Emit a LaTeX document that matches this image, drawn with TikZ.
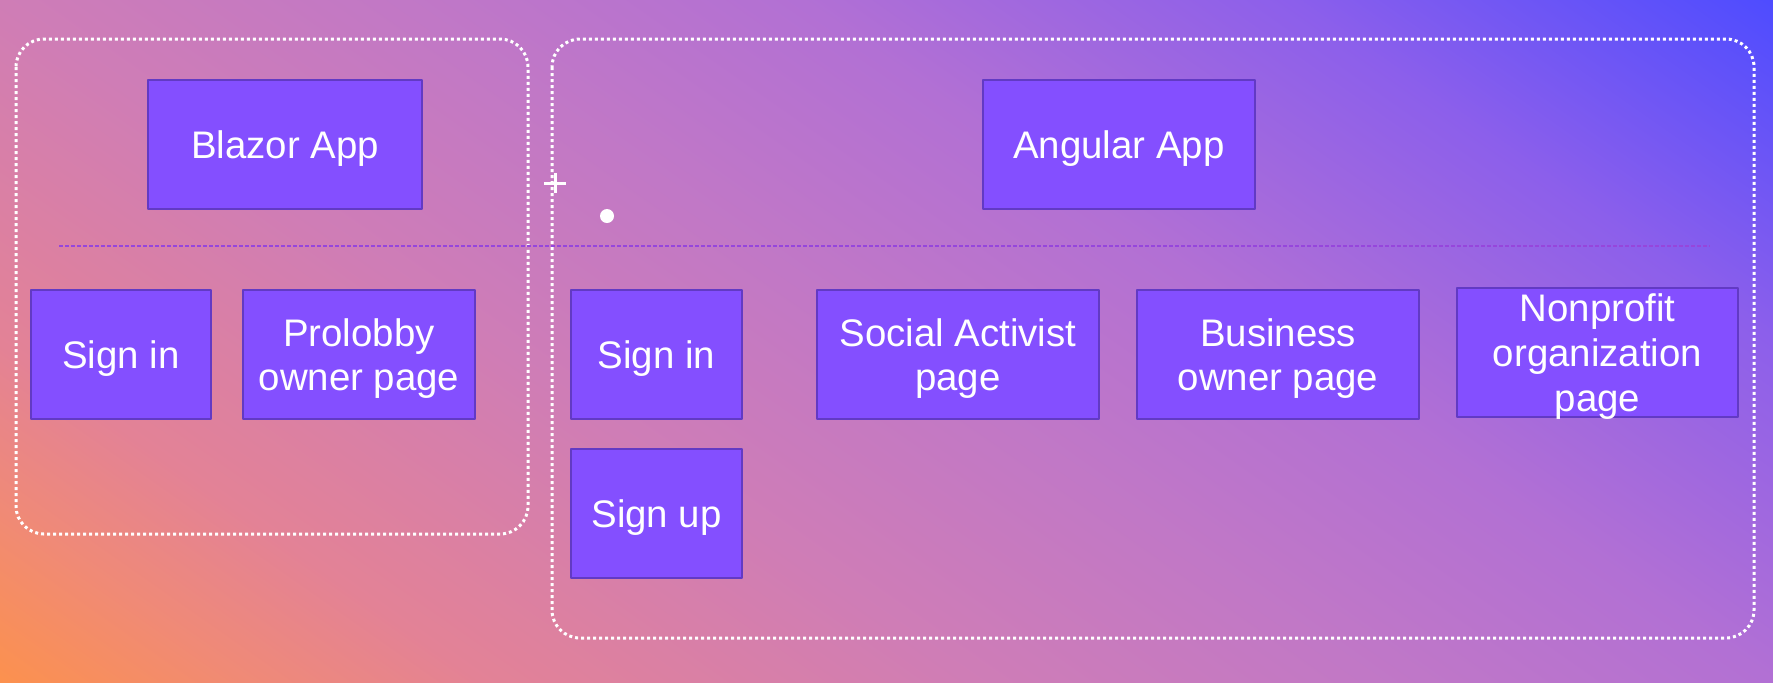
\documentclass[tikz,border=0pt]{standalone}
\usepackage{fontspec}
\setmainfont{Liberation Sans}
\definecolor{bga}{RGB}{252,145,78}
\definecolor{bgb}{RGB}{240,138,118}
\definecolor{bgc}{RGB}{227,130,150}
\definecolor{bgd}{RGB}{207,125,182}
\definecolor{bge}{RGB}{193,120,198}
\definecolor{bgf}{RGB}{178,112,212}
\definecolor{bgg}{RGB}{140,95,235}
\definecolor{bgh}{RGB}{78,76,255}
\definecolor{boxfill}{RGB}{132,79,255}
\definecolor{boxline}{RGB}{98,58,196}
\definecolor{guide}{RGB}{150,70,220}
\pgfdeclareverticalshading{backdrop}{100bp}{color(0bp)=(bga); color(37.5bp)=(bga); color(39.75bp)=(bgb);
	color(41.9bp)=(bgc); color(46.35bp)=(bgd); color(50bp)=(bge); color(53.65bp)=(bgf); color(58.1bp)=(bgg);
	color(62.5bp)=(bgh); color(100bp)=(bgh)}
\begin{document}
\begin{tikzpicture}[x=.5pt, y=-.5pt, line join=round, line cap=round,
		font=\fontsize{19.2}{22.4}\selectfont,
		page/.style={draw=boxline, line width=1pt, fill=boxfill, text=white, align=center, inner sep=0pt, text depth=0pt, minimum height=64.5pt},
		frame/.style={draw=white, line width=1.5pt, line cap=butt, dash pattern=on 1.5pt off 1.5pt, rounded corners=14pt}]
		\def\W{1773}\def\H{682}\def\row{354.5}
		\useasboundingbox (0,0) rectangle (\W,\H);
		\begin{scope}
			\clip (0,0) rectangle (\W,\H);
			\shade[shading=backdrop, shading angle=-35] (-689.5,-1235) rectangle (2462.5,1917);
		\end{scope}
		% dotted app frames
		\draw[frame] (16,39) rectangle (528,534);
		\draw[frame] (552,39) rectangle (1754,638);
		\coordinate (gl) at (59,246); \coordinate (gr) at (1710,246);
		\draw[guide, line width=.75pt, line cap=butt, dash pattern=on 2pt off 1pt] (gl)--(gr);
		\draw[white, line width=1.5pt, line cap=butt] (544,183)--(566,183) (555,173)--(555,193);
		\fill[white] (607,216) circle (3.5pt);
		% apps
		\node[page, minimum width=137pt] (blazor) at (285,144.5) {Blazor App};
		\node[page, minimum width=136pt] (angular) at (1119,144.5) {Angular App};
		% pages
		\foreach \n/\x/\y/\w/\t in {signinB/121/\row/90/{Sign in}, prolobby/359/\row/116/{Prolobby\\owner page},
			signinA/656.5/\row/85.5/{Sign in}, signupA/656.5/513.5/85.5/{Sign up},
			social/958/\row/141/{Social Activist\\page}, business/1278/\row/141/{Business\\owner page},
			nonprofit/1597.5/352.5/140.5/{Nonprofit\\organization\\page}}
			\node[page, minimum width=\w pt] (\n) at (\x,\y) {\t};
\end{tikzpicture}
\end{document}
